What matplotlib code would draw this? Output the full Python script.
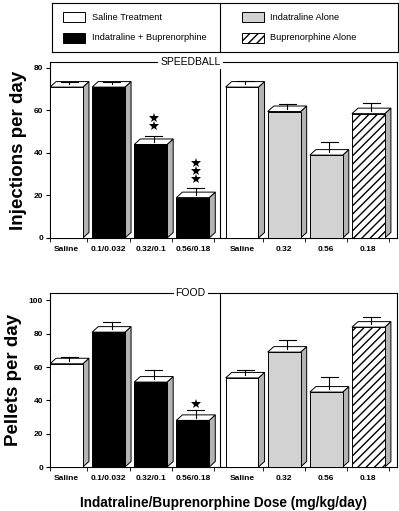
import numpy as np
import matplotlib.pyplot as plt
from matplotlib.patches import Polygon, Rectangle

plt.rcParams['font.family'] = ['Liberation Sans', 'DejaVu Sans']

# x labels and positions (two groups of four bars)
labels = ['Saline', '0.1/0.032', '0.32/0.1', '0.56/0.18', 'Saline', '0.32', '0.56', '0.18']
xpos = [0, 1, 2, 3, 4.17, 5.17, 6.17, 7.17]
kinds = ['saline', 'combo', 'combo', 'combo', 'saline', 'indat', 'indat', 'bup']

# speedball injections (mean, upper error)
inj = [71, 71, 44, 19, 71, 59.5, 39, 58.5]
inj_err = [2.5, 2.5, 4, 4.5, 3, 3.5, 6, 5]
# food pellets
pel = [62, 81, 51, 28, 53.5, 69, 45, 84]
pel_err = [4, 6, 7.5, 6, 5, 7, 9, 6]

# significance stars (bar index, number of stars)
inj_stars = {2: 2, 3: 3}
pel_stars = {3: 1}

face = {'saline': 'white', 'combo': 'black', 'indat': '#d2d2d2', 'bup': 'white'}
hatch = {'saline': None, 'combo': None, 'indat': None, 'bup': '////'}

W = 0.78
DX = 0.145   # depth in x (data units)
DPX = 5.5    # depth in y (pixels)


def panel(ax, vals, errs, stars, ymax, yticks, title, ylabel, star_y):
    ppu = ax.bbox.height / ymax
    dy = DPX / ppu
    for x, v, e, k in zip(xpos, vals, errs, kinds):
        l, r = x - W / 2, x + W / 2
        side = Polygon([(r, 0), (r + DX, dy), (r + DX, v + dy), (r, v)],
                       closed=True, fc='#b4b4b4', ec='black', lw=0.7, zorder=2)
        top = Polygon([(l, v), (l + DX, v + dy), (r + DX, v + dy), (r, v)],
                      closed=True, fc='white', ec='black', lw=0.7, zorder=2)
        ax.add_patch(side)
        ax.add_patch(top)
        ax.bar(x, v, W, color=face[k], edgecolor='black', linewidth=0.7,
               hatch=hatch[k], zorder=3)
        cx = x + DX / 2
        ax.plot([cx, cx], [v + dy / 2, v + e], color='black', lw=0.8, zorder=4)
        ax.plot([cx - 0.2, cx + 0.2], [v + e, v + e], color='black', lw=0.8, zorder=4)
    for i, n in stars.items():
        ys = [star_y[i] - j * 8.2 / ppu for j in range(n)]
        ax.plot([xpos[i] + DX / 2] * n, ys, ls='none', marker='*', ms=7.2,
                mew=0, color='black', zorder=5)
    ax.set_xlim(-0.39, 7.85)
    ax.set_ylim(0, ymax)
    ax.set_yticks(yticks)
    ax.set_xticks(xpos)
    ax.set_xticklabels(labels)
    ax.set_xticks([-0.39, 0.5, 1.5, 2.5, 3.5, 4.67, 5.67, 6.67, 7.67], minor=True)
    ax.tick_params(axis='x', which='major', length=0, pad=6, labelsize=6)
    ax.tick_params(axis='x', which='minor', length=3, direction='out')
    ax.tick_params(axis='y', length=3, direction='out', labelsize=6, pad=2)
    for t in ax.get_xticklabels() + ax.get_yticklabels():
        t.set_fontweight('bold')
    for s in ax.spines.values():
        s.set_linewidth(0.8)
    ax.axvline(3.64, color='black', lw=0.8, zorder=1)
    ax.text(2.95, ymax, title, ha='center', va='center', fontsize=7.5,
            bbox=dict(fc='white', ec='none', pad=1.5), zorder=6)
    ax.set_ylabel(ylabel, fontsize=13.5, fontweight='bold', labelpad=5)


fig = plt.figure(figsize=(3.99, 5.11), dpi=100)

ax1 = fig.add_axes([50 / 399, 1 - 238 / 511, 347 / 399, 176 / 511])
panel(ax1, inj, inj_err, inj_stars, 82.8, [0, 20, 40, 60, 80], 'SPEEDBALL',
      'Injections per day', {2: 56.5, 3: 35.3})

ax2 = fig.add_axes([50 / 399, 1 - 467 / 511, 347 / 399, 174.5 / 511])
panel(ax2, pel, pel_err, pel_stars, 104.8, [0, 20, 40, 60, 80, 100], 'FOOD',
      'Pellets per day', {3: 38})
ax2.set_xlabel('Indatraline/Buprenorphine Dose (mg/kg/day)', fontsize=9.8,
               fontweight='bold', labelpad=10)

# legend box
lg = fig.add_axes([52 / 399, 1 - 52 / 511, 346 / 399, 49 / 511])
lg.set_xlim(0, 1)
lg.set_ylim(0, 1)
lg.set_xticks([])
lg.set_yticks([])
for s in lg.spines.values():
    s.set_linewidth(0.8)
lg.axvline(0.486, color='black', lw=0.8)
entries = [('saline', 'Saline Treatment', 0.032, 0.116, 0.714),
           ('combo', 'Indatraline + Buprenorphine', 0.032, 0.116, 0.286),
           ('indat', 'Indatraline Alone', 0.549, 0.63, 0.714),
           ('bup', 'Buprenorphine Alone', 0.549, 0.63, 0.286)]
for k, txt, px, tx, ty in entries:
    lg.add_patch(Rectangle((px, ty - 0.11), 0.064, 0.22, fc=face[k], ec='black',
                           lw=0.7, hatch=hatch[k]))
    lg.text(tx, ty, txt, va='center', ha='left', fontsize=6.7)

fig.savefig('out.png', dpi=100)
